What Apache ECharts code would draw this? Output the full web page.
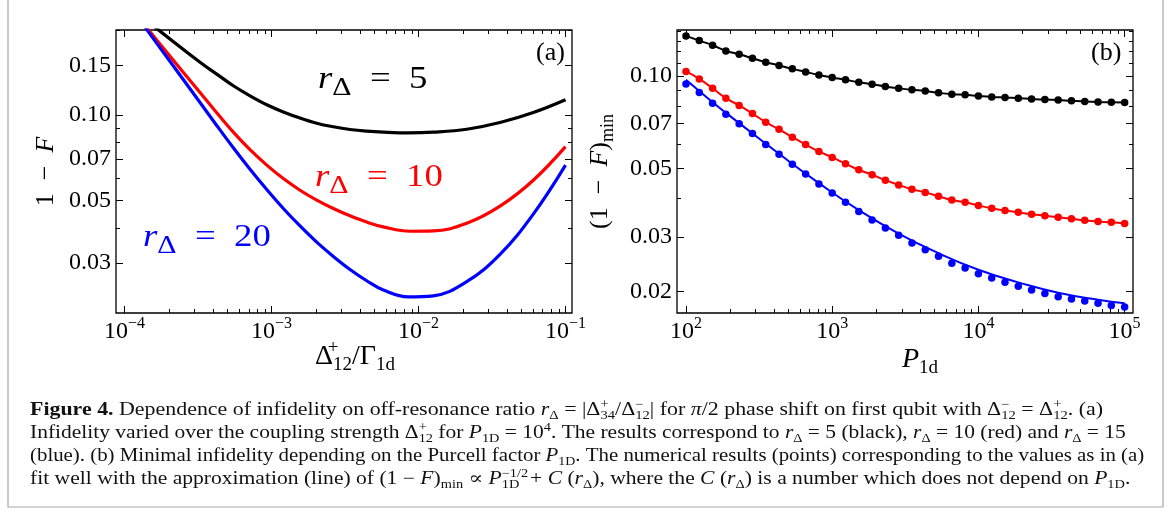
<!DOCTYPE html>
<html>
<head>
<meta charset="utf-8">
<script src="https://cdn.jsdelivr.net/npm/echarts@6/dist/echarts.min.js"></script>
<style>
  html, body { margin: 0; padding: 0; background: #fff; }
  #main { width: 1171px; height: 524px; }
</style>
</head>
<body>
<div id="main"></div>
<script>
// ---- panel (a): 1 - F against coupling strength ----
const aBlackX = [1.612e-4, 3.263e-4, 4.237e-4, 5.496e-4, 7.14e-4, 9.28e-4, 1.203e-3, 1.563e-3, 2.030e-3, 2.633e-3,
  3.420e-3, 4.442e-3, 5.761e-3, 8.485e-3, 0.01261, 0.02128, 0.03584, 0.06039, 0.1];
const aBlackY = [0.2047, 0.1538, 0.1397, 0.1271, 0.1171, 0.1089, 0.1027, 0.0977, 0.0937, 0.0910,
  0.0890, 0.0878, 0.0871, 0.0866, 0.0871, 0.0892, 0.0942, 0.1022, 0.1134];
const aRedX = [1.406e-4, 1.939e-4, 3.263e-4, 4.237e-4, 5.496e-4, 7.14e-4, 9.28e-4, 1.203e-3, 1.563e-3, 2.030e-3, 2.633e-3,
  3.420e-3, 4.442e-3, 5.761e-3, 8.755e-3, 0.01261, 0.02128, 0.03584, 0.06039, 0.1];
const aRedY = [0.2047, 0.1667, 0.1203, 0.1020, 0.0871, 0.0755, 0.0666, 0.0597, 0.0543, 0.0501, 0.0468,
  0.0441, 0.0419, 0.0403, 0.0389, 0.0390, 0.0415, 0.0477, 0.0589, 0.0774];
const aBlueX = [1.377e-4, 1.939e-4, 3.263e-4, 4.237e-4, 5.496e-4, 7.14e-4, 9.28e-4, 1.203e-3, 1.563e-3, 2.030e-3, 2.633e-3,
  3.420e-3, 4.442e-3, 5.761e-3, 8.52e-3, 0.01261, 0.02128, 0.03584, 0.06039, 0.1];
const aBlueY = [0.2047, 0.1605, 0.1109, 0.0920, 0.0767, 0.0644, 0.0546, 0.0468, 0.0406, 0.0356, 0.0317,
  0.0285, 0.0260, 0.0241, 0.0228, 0.0230, 0.0258, 0.0322, 0.0447, 0.0666];

// ---- panel (b): minimal infidelity against Purcell factor ----
const bPurcell = [100, 123.3, 152, 187.4, 231, 284.8, 351.1, 432.9, 533.7, 657.9, 811.1,
  1000, 1233, 1520, 1874, 2310, 2848, 3511, 4329, 5337, 6579, 8111,
  10000, 12330, 15200, 18740, 23100, 28480, 35110, 43290, 53370, 65790, 81110, 100000];
const bBlack = [0.1348, 0.1302, 0.1257, 0.1205, 0.1176, 0.1141, 0.1108, 0.1081, 0.1054, 0.1030, 0.1007,
  0.0988, 0.0971, 0.0954, 0.0940, 0.0924, 0.0912, 0.0901, 0.0894, 0.0881, 0.0872, 0.0868,
  0.0861, 0.0855, 0.0851, 0.0847, 0.0842, 0.0838, 0.0836, 0.0830, 0.0826, 0.0823, 0.0821, 0.0820];
const bRed = [0.1034, 0.0978, 0.0912, 0.0847, 0.0802, 0.0755, 0.0708, 0.0671, 0.0633, 0.0599, 0.0569,
  0.0544, 0.0519, 0.0496, 0.0478, 0.0459, 0.0443, 0.0429, 0.0419, 0.0407, 0.0396, 0.0389,
  0.0380, 0.0372, 0.0366, 0.0361, 0.0356, 0.0352, 0.0348, 0.0344, 0.0340, 0.0337, 0.0335, 0.0332];
const bBlue = [0.0942, 0.0884, 0.0815, 0.0751, 0.0699, 0.0651, 0.0599, 0.0557, 0.0517, 0.0481, 0.0446,
  0.0417, 0.0389, 0.0363, 0.0341, 0.0321, 0.0304, 0.0287, 0.0273, 0.0260, 0.0247, 0.0238,
  0.0228, 0.0221, 0.0214, 0.0208, 0.0202, 0.0197, 0.0192, 0.0189, 0.0186, 0.0183, 0.0180, 0.0178];
// the blue fit line sits a little off the points
const bBlueFitX = [100, 152, 231, 432.9, 811.1, 1520, 2848, 5337, 10000, 18740, 35110, 65790, 100000];
const bBlueFitY = [0.0971, 0.0822, 0.0703, 0.0559, 0.0449, 0.0367, 0.0308, 0.0266, 0.0235, 0.0214, 0.0198, 0.0188, 0.0183];

// ---- ticks ----
const aXMajor = [1e-4, 1e-3, 1e-2, 1e-1];
const aXMinor = [2e-4, 3e-4, 4e-4, 5e-4, 6e-4, 7e-4, 8e-4, 9e-4, 2e-3, 3e-3, 4e-3, 5e-3, 6e-3, 7e-3, 8e-3, 9e-3,
  0.02, 0.03, 0.04, 0.05, 0.06, 0.07, 0.08, 0.09];
const aYMajor = [0.03, 0.05, 0.07, 0.10, 0.15];
const aYMinor = [0.04, 0.06, 0.08, 0.09, 0.2];
const bXMajor = [100, 1000, 10000, 100000];
const bXMinor = [200, 300, 400, 500, 600, 700, 800, 900, 2000, 3000, 4000, 5000, 6000, 7000, 8000, 9000,
  20000, 30000, 40000, 50000, 60000, 70000, 80000, 90000];
const bYMajor = [0.02, 0.03, 0.05, 0.07, 0.10];
const bYMinor = [0.04, 0.06, 0.08, 0.09, 0.11, 0.12, 0.13, 0.14];

const SERIF = "'Liberation Serif', 'DejaVu Serif', serif";

function zip(xs, ys) {
  return xs.map((x, i) => [x, ys[i]]);
}

// rich text styles for math-ish labels
function richSet(size, color, subRatio) {
  const base = { fontFamily: SERIF, fontSize: size, color: color, lineHeight: Math.round(size * 1.3) };
  const small = Math.round(size * (subRatio || 0.68));
  return {
    r: base,
    i: Object.assign({}, base, { fontStyle: 'italic' }),
    b: Object.assign({}, base, { fontWeight: 'bold' }),
    sub: { fontFamily: SERIF, fontSize: small, color: color, verticalAlign: 'bottom', lineHeight: Math.round(size * 0.8) },
    sup: { fontFamily: SERIF, fontSize: small, color: color, verticalAlign: 'top', lineHeight: Math.round(size * 0.8) },
    supz: { fontFamily: SERIF, fontSize: small, color: color, verticalAlign: 'top', lineHeight: Math.round(size * 0.8), width: 0 }
  };
}

function powLabel(v) {
  const e = Math.round(Math.log10(v));
  return '{r|10}{sup|' + (e < 0 ? '\u2212' + (-e) : e) + '}';
}

function xAx(grid, pos, min, max, ticks, len, extra) {
  return Object.assign({
    type: 'log', logBase: 10, gridIndex: grid, position: pos, min: min, max: max,
    axisLine: { show: false, onZero: false },
    splitLine: { show: false },
    axisTick: { show: true, inside: true, length: len, customValues: ticks, lineStyle: { color: '#000', width: 1 } },
    axisLabel: { show: false }
  }, extra || {});
}

const tickLabelRich = richSet(24, '#000');
const yNameRich = richSet(26, '#000');
const xNameRich = richSet(28, '#000');

const aXMin = 8.75e-5, aXMax = 0.1107;
const bXMin = 86.8, bXMax = 1.141e5;

const xAxes = [
  xAx(0, 'bottom', aXMin, aXMax, aXMajor, 7, {
    axisLabel: { show: true, customValues: aXMajor, formatter: powLabel, rich: tickLabelRich, margin: 3 },
    name: '{r|\u0394}{supz|+}{sub|12}{r|/\u0393}{sub|1d}', nameLocation: 'middle', nameGap: 26, nameMoveOverlap: false,
    nameTextStyle: { rich: xNameRich, padding: [0, 0, 0, 22] }
  }),
  xAx(0, 'bottom', aXMin, aXMax, aXMinor, 4),
  xAx(0, 'top', aXMin, aXMax, aXMajor, 7),
  xAx(0, 'top', aXMin, aXMax, aXMinor, 4),
  xAx(1, 'bottom', bXMin, bXMax, bXMajor, 7, {
    axisLabel: { show: true, customValues: bXMajor, formatter: powLabel, rich: tickLabelRich, margin: 3 },
    name: '{i|P}{sub|1d}', nameLocation: 'middle', nameGap: 29, nameMoveOverlap: false,
    nameTextStyle: { rich: xNameRich, padding: [0, 0, 0, 30] }
  }),
  xAx(1, 'bottom', bXMin, bXMax, bXMinor, 4),
  xAx(1, 'top', bXMin, bXMax, bXMajor, 7),
  xAx(1, 'top', bXMin, bXMax, bXMinor, 4)
];

function yLabel(v) {
  return '{r|' + v.toFixed(2) + '}';
}

const yAxes = [
  xAx(0, 'left', 0.02, 0.2, aYMajor, 7, {
    axisLabel: { show: true, customValues: aYMajor, formatter: yLabel, rich: tickLabelRich, margin: 5 },
    name: '{r|1\u2002\u2212\u2002}{i|F}', nameLocation: 'middle', nameGap: 53, nameRotate: 90,
    nameTextStyle: { rich: yNameRich }
  }),
  xAx(0, 'left', 0.02, 0.2, aYMinor, 4),
  xAx(0, 'right', 0.02, 0.2, aYMajor, 7),
  xAx(0, 'right', 0.02, 0.2, aYMinor, 4),
  xAx(1, 'left', 0.01702, 0.1409, bYMajor, 7, {
    axisLabel: { show: true, customValues: bYMajor, formatter: yLabel, rich: tickLabelRich, margin: 5 },
    name: '{r|(1\u2002\u2212\u2002}{i|F}{r|)}{sub|min}', nameLocation: 'middle', nameGap: 60, nameRotate: 90,
    nameTextStyle: { rich: yNameRich }
  }),
  xAx(1, 'left', 0.01702, 0.1409, bYMinor, 4),
  xAx(1, 'right', 0.01702, 0.1409, bYMajor, 7),
  xAx(1, 'right', 0.01702, 0.1409, bYMinor, 4)
];

function curve(xs, ys, color) {
  return {
    type: 'line', xAxisIndex: 0, yAxisIndex: 0, data: zip(xs, ys),
    showSymbol: false, smooth: 0.4, lineStyle: { color: color, width: 3.2 }, silent: true
  };
}
function fit(xs, ys, color) {
  return {
    type: 'line', xAxisIndex: 4, yAxisIndex: 4, data: zip(xs, ys),
    showSymbol: false, smooth: true, lineStyle: { color: color, width: 2 }, silent: true
  };
}
function dots(ys, color) {
  return {
    type: 'scatter', xAxisIndex: 4, yAxisIndex: 4, data: zip(bPurcell, ys),
    symbolSize: 7.5, itemStyle: { color: color, opacity: 1 }, silent: true
  };
}

const capRich = richSet(18, '#111');

function capLine(txt, y, sx) {
  return {
    type: 'text', x: 30, y: y, scaleX: sx,
    style: { text: txt, fontFamily: SERIF, fontSize: 18, fill: '#111', rich: capRich }
  };
}

function mathText(txt, x, y, color) {
  return {
    type: 'text', x: x, y: y, scaleX: 1.15,
    style: { text: txt, fontFamily: SERIF, fontSize: 32, fill: color, rich: richSet(32, color, 0.8) }
  };
}

const chart = echarts.init(document.getElementById('main'));
chart.setOption({
  animation: false,
  backgroundColor: '#fff',
  grid: [
    { left: 116, top: 30, width: 456, height: 283, show: true, borderColor: '#000', borderWidth: 1.3, backgroundColor: 'transparent' },
    { left: 677, top: 30, width: 456, height: 283, show: true, borderColor: '#000', borderWidth: 1.3, backgroundColor: 'transparent' }
  ],
  xAxis: xAxes,
  yAxis: yAxes,
  series: [
    curve(aBlackX, aBlackY, '#000000'),
    curve(aRedX, aRedY, '#ff0000'),
    curve(aBlueX, aBlueY, '#0000ff'),
    fit(bPurcell, bBlack, '#000000'),
    fit(bPurcell, bRed, '#ff0000'),
    fit(bBlueFitX, bBlueFitY, '#0000ff'),
    dots(bBlack, '#000000'),
    dots(bRed, '#ff0000'),
    dots(bBlue, '#0000ff')
  ],
  graphic: [
    { type: 'rect', shape: { x: 8, y: -2, width: 1155, height: 509 }, style: { fill: 'none', stroke: '#a8a8a8', lineWidth: 1.2 } },
    { type: 'text', x: 536, y: 40, style: { text: '(a)', fontFamily: SERIF, fontSize: 26, fill: '#000' } },
    { type: 'text', x: 1091, y: 40, style: { text: '(b)', fontFamily: SERIF, fontSize: 26, fill: '#000' } },
    mathText('{i|r}{sub|\u0394}{r|\u2002=\u20025}', 318, 59, '#000000'),
    mathText('{i|r}{sub|\u0394}{r|\u2002=\u200210}', 315, 157, '#ff0000'),
    mathText('{i|r}{sub|\u0394}{r|\u2002=\u200220}', 143, 217, '#0000ff'),
    capLine('{b|Figure 4.} Dependence of infidelity on off-resonance ratio {i|r}{sub|\u0394} = |\u0394{supz|+}{sub|34}/\u0394{supz|\u2212}{sub|12}| for {i|\u03c0}/2 phase shift on first qubit with \u0394{supz|\u2212}{sub|12} = \u0394{supz|+}{sub|12}. (a)', 399, 1.217),
    capLine('Infidelity varied over the coupling strength \u0394{supz|+}{sub|12} for {i|P}{sub|1D} = 10{sup|4}. The results correspond to {i|r}{sub|\u0394} = 5 (black), {i|r}{sub|\u0394} = 10 (red) and {i|r}{sub|\u0394} = 15', 422, 1.194),
    capLine('(blue). (b) Minimal infidelity depending on the Purcell factor {i|P}{sub|1D}. The numerical results (points) corresponding to the values as in (a)', 445, 1.159),
    capLine('fit well with the approximation (line) of (1 \u2212 {i|F}){sub|min} \u221d {i|P}{supz|\u22121/2}{sub|1D}  + {i|C} ({i|r}{sub|\u0394}), where the {i|C} ({i|r}{sub|\u0394}) is a number which does not depend on {i|P}{sub|1D}.', 468, 1.199)
  ]
});
</script>
</body>
</html>
